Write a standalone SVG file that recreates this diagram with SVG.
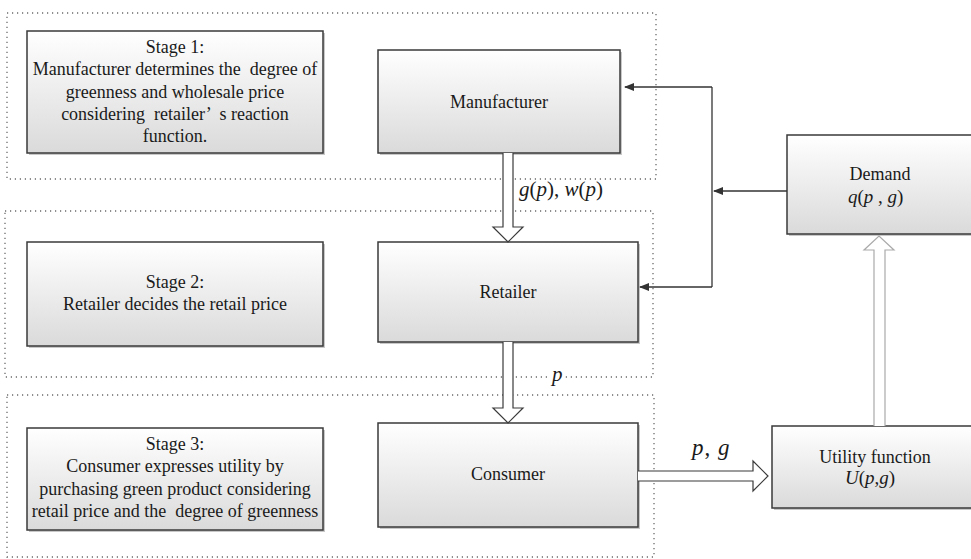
<svg xmlns="http://www.w3.org/2000/svg" width="971" height="559" viewBox="0 0 971 559">
<style>
.t{font-family:"Liberation Serif","Times New Roman",serif;font-size:18px;fill:#1a1a1a;text-anchor:middle;white-space:pre}
.m{font-family:"Liberation Serif","Times New Roman",serif;font-size:21px;fill:#1a1a1a;white-space:pre}
.i{font-style:italic}
.box{fill:url(#g);stroke:#3a3a3a;stroke-width:1.5}
.sh{fill:#c8c8c8}
.dot{fill:none;stroke:#6a6a6a;stroke-width:1.3;stroke-dasharray:1.2 3.8}
.ln{fill:none;stroke:#333;stroke-width:1.3}
.ha{fill:#fff;stroke:#3a3a3a;stroke-width:1.2}
.hg{fill:#fff;stroke:#aaaaaa;stroke-width:1.2}
</style>
<defs>
<linearGradient id="g" x1="0" y1="0" x2="0" y2="1">
<stop offset="0" stop-color="#ffffff"/>
<stop offset="1" stop-color="#dadada"/>
</linearGradient>
<marker id="ah" markerWidth="10" markerHeight="8" refX="9" refY="4" orient="auto" markerUnits="userSpaceOnUse">
<path d="M0,0 L10,4 L0,8 Z" fill="#333"/>
</marker>
</defs>
<rect width="971" height="559" fill="#fff"/>

<g id="stages-frames">
<rect class="dot" x="7" y="13" width="649" height="166"/>
<rect class="dot" x="5" y="211" width="648" height="166"/>
<rect class="dot" x="7" y="395" width="647" height="162"/>
</g>

<g id="stage1">
<rect class="sh" x="29" y="33" width="296" height="122"/>
<rect class="box" x="27" y="31" width="296" height="122"/>
<text class="t" x="175" y="53">Stage 1:</text>
<text class="t" x="175" y="75" xml:space="preserve">Manufacturer determines the  degree of</text>
<text class="t" x="175" y="97.5">greenness and wholesale price</text>
<text class="t" x="175" y="120" xml:space="preserve">considering  retailer’  s reaction</text>
<text class="t" x="175" y="142">function.</text>
</g>

<g id="stage2">
<rect class="sh" x="29" y="244" width="296" height="104"/>
<rect class="box" x="27" y="242" width="296" height="104"/>
<text class="t" x="175" y="288">Stage 2:</text>
<text class="t" x="175" y="310">Retailer decides the retail price</text>
</g>

<g id="stage3">
<rect class="sh" x="29" y="430" width="296" height="102"/>
<rect class="box" x="27" y="428" width="296" height="102"/>
<text class="t" x="175" y="450">Stage 3:</text>
<text class="t" x="175" y="472">Consumer expresses utility by</text>
<text class="t" x="175" y="495">purchasing green product considering</text>
<text class="t" x="175" y="517" xml:space="preserve">retail price and the  degree of greenness</text>
</g>

<g id="manufacturer">
<rect class="sh" x="380" y="52" width="242" height="103"/>
<rect class="box" x="378" y="50" width="242" height="103"/>
<text class="t" x="499" y="108">Manufacturer</text>
</g>

<g id="retailer">
<rect class="sh" x="380" y="244" width="260" height="100"/>
<rect class="box" x="378" y="242" width="260" height="100"/>
<text class="t" x="508" y="298">Retailer</text>
</g>

<g id="consumer">
<rect class="sh" x="380" y="425" width="260" height="104"/>
<rect class="box" x="378" y="423" width="260" height="104"/>
<text class="t" x="508" y="480">Consumer</text>
</g>

<g id="demand">
<rect class="sh" x="789" y="137" width="200" height="99"/>
<rect class="box" x="787" y="135" width="200" height="99"/>
<text class="t" x="880" y="180">Demand</text>
<text class="m" x="848" y="203" style="font-size:19px"><tspan class="i">q</tspan>(<tspan class="i">p</tspan> , <tspan class="i">g</tspan>)</text>
</g>

<g id="utility">
<rect class="sh" x="774" y="428" width="215" height="82"/>
<rect class="box" x="772" y="426" width="215" height="82"/>
<text class="t" x="875" y="463">Utility function</text>
<text class="m" x="845" y="484" style="font-size:19px"><tspan class="i">U</tspan>(<tspan class="i">p</tspan>,<tspan class="i">g</tspan>)</text>
</g>

<g id="connectors">
<path class="ha" d="M503,153 L503,227 L493,227 L508,242 L523,227 L513,227 L513,153"/>
<path class="ha" d="M503,342 L503,408 L493,408 L508,423 L523,408 L513,408 L513,342"/>
<path class="ha" d="M638,471 L753,471 L753,461 L768,476 L753,491 L753,481 L638,481"/>
<path class="hg" d="M874,426 L874,250 L864,250 L879,236 L894,250 L885,250 L885,426"/>
<path class="ln" d="M787,191 L714,191" marker-end="url(#ah)"/>
<path class="ln" d="M712,87 L712,287"/>
<path class="ln" d="M712,87 L625,87" marker-end="url(#ah)"/>
<path class="ln" d="M712,287 L640,287" marker-end="url(#ah)"/>
<text class="m" x="519" y="196"><tspan class="i">g</tspan>(<tspan class="i">p</tspan>), <tspan class="i">w</tspan>(<tspan class="i">p</tspan>)</text>
<rect x="549" y="372" width="16" height="10" fill="#fff"/>
<text class="m i" x="552" y="381">p</text>
<text class="m" x="692" y="455" style="font-size:23px;letter-spacing:1px"><tspan class="i">p</tspan>, <tspan class="i">g</tspan></text>
</g>
</svg>
